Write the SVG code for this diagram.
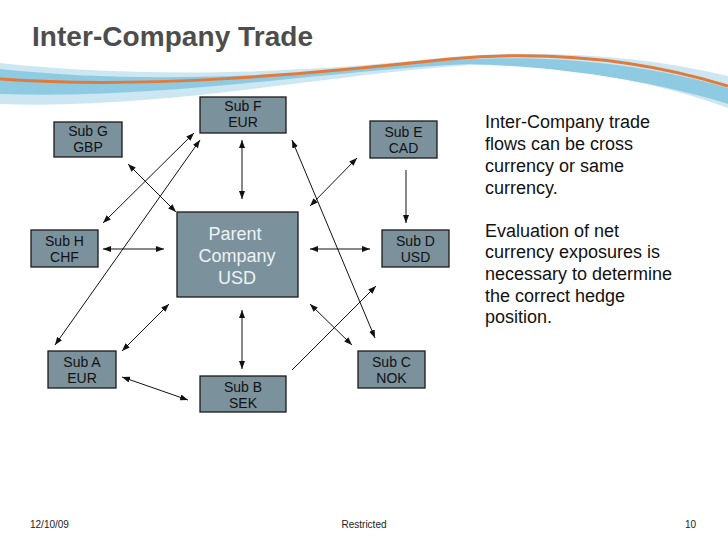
<svg xmlns="http://www.w3.org/2000/svg" width="728" height="546" viewBox="0 0 728 546">
<style>
.node rect{fill:#7b929d;stroke:#1a1a1a;stroke-width:1.3}
.node text{font-family:"Liberation Sans",Arial,sans-serif;font-size:14px;fill:#111;text-anchor:middle}
.parent text{font-size:18px;fill:#eef2f4}
.conn line{stroke:#111;stroke-width:1}
.dbl{marker-start:url(#ah);marker-end:url(#ah)}
.sgl{marker-end:url(#ah)}
.body{font-family:"Liberation Sans",Arial,sans-serif;font-size:18px;fill:#111}
.foot{font-family:"Liberation Sans",Arial,sans-serif;font-size:10px;fill:#222}
</style>
<defs>
<marker id="ah" viewBox="0 0 8 6" refX="8" refY="3" markerWidth="8" markerHeight="6" markerUnits="userSpaceOnUse" orient="auto-start-reverse">
<path d="M0,0 L8,3 L0,6 z" fill="#111"/>
</marker>
</defs>
<rect width="728" height="546" fill="#ffffff"/>
<g id="wave">
<path d="M0,63 C120,76 260,76 420,60 C520,49 630,52 728,76 L728,108 C650,80 560,64 470,65 C330,74 160,110 0,104 Z" fill="#cde7f2"/>
<path d="M0,69 C130,83 280,78 440,61 C540,53 640,62 728,88 L728,104 C650,80 560,67 470,64 C330,70 160,100 0,94 Z" fill="#8ecbe3"/>
<path d="M0,79 C140,89 290,76 450,59 C560,49 650,62 728,86" fill="none" stroke="#e07b3c" stroke-width="3"/>
</g>
<text x="32" y="46" font-family="'Liberation Sans',Arial,sans-serif" font-weight="bold" font-size="28" fill="#4d4d4d" textLength="281">Inter-Company Trade</text>
<g id="connectors" class="conn">
<line class="dbl" x1="128" y1="164" x2="176" y2="212"/>
<line class="dbl" x1="103" y1="223" x2="194" y2="133"/>
<line class="dbl" x1="55" y1="345" x2="200" y2="140"/>
<line class="dbl" x1="103" y1="249" x2="164" y2="249"/>
<line class="dbl" x1="242" y1="140" x2="242" y2="199"/>
<line class="dbl" x1="292" y1="140" x2="375" y2="338"/>
<line class="dbl" x1="357" y1="158" x2="310" y2="206"/>
<line class="sgl" x1="406" y1="170" x2="406" y2="223"/>
<line class="dbl" x1="310" y1="249" x2="370" y2="249"/>
<line class="sgl" x1="292" y1="370" x2="376" y2="286"/>
<line class="dbl" x1="310" y1="304" x2="352" y2="345"/>
<line class="dbl" x1="242" y1="310" x2="242" y2="369"/>
<line class="dbl" x1="169" y1="304" x2="122" y2="351"/>
<line class="dbl" x1="122" y1="377" x2="188" y2="400"/>
</g>
<g id="subF" class="node"><rect x="200" y="97" width="86" height="36"/><text x="243" y="111">Sub F</text><text x="243" y="127">EUR</text></g>
<g id="subG" class="node"><rect x="54" y="122" width="68" height="35"/><text x="88" y="136">Sub G</text><text x="88" y="152">GBP</text></g>
<g id="subE" class="node"><rect x="370" y="121" width="67" height="37"/><text x="403.5" y="136.5">Sub E</text><text x="403.5" y="152.5">CAD</text></g>
<g id="subH" class="node"><rect x="31" y="230" width="67" height="37"/><text x="64.5" y="246">Sub H</text><text x="64.5" y="262">CHF</text></g>
<g id="parent" class="node parent"><rect x="177" y="212" width="121" height="85"/><text x="235" y="240">Parent</text><text x="237" y="262">Company</text><text x="237" y="283.5">USD</text></g>
<g id="subD" class="node"><rect x="382" y="230" width="67" height="37"/><text x="415.5" y="246">Sub D</text><text x="415.5" y="262">USD</text></g>
<g id="subA" class="node"><rect x="48" y="351" width="68" height="37"/><text x="82" y="367">Sub A</text><text x="82" y="383">EUR</text></g>
<g id="subC" class="node"><rect x="358" y="351" width="67" height="37"/><text x="391.5" y="367">Sub C</text><text x="391.5" y="383">NOK</text></g>
<g id="subB" class="node"><rect x="200" y="376" width="86" height="36"/><text x="243" y="392">Sub B</text><text x="243" y="408">SEK</text></g>
<g id="note" class="body">
<text x="485" y="128">Inter-Company trade</text>
<text x="485" y="150">flows can be cross</text>
<text x="485" y="172">currency or same</text>
<text x="485" y="194">currency.</text>
<text x="485" y="236.5">Evaluation of net</text>
<text x="485" y="258">currency exposures is</text>
<text x="485" y="280">necessary to determine</text>
<text x="485" y="301.5">the correct hedge</text>
<text x="485" y="323">position.</text>
</g>
<g id="footer" class="foot">
<text x="30" y="528">12/10/09</text>
<text x="364" y="528" text-anchor="middle">Restricted</text>
<text x="696" y="528" text-anchor="end">10</text>
</g>
</svg>
